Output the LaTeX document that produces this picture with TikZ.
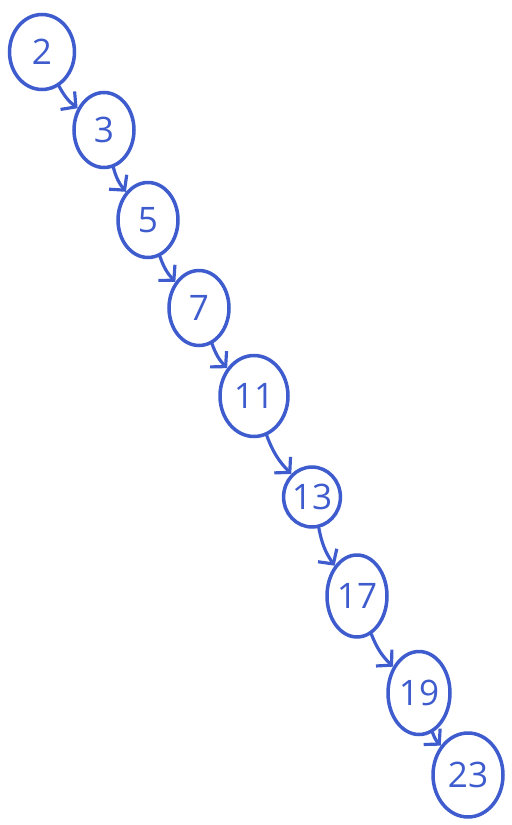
\documentclass[tikz,border=0pt]{standalone}
\usepackage{fontspec}
\setmainfont{Open Sans}
\usetikzlibrary{shapes.geometric,arrows.meta}
\definecolor{PenBlue}{RGB}{62,92,205}
\tikzset{
  prime/.style={ellipse,draw=PenBlue,line width=2pt,text=PenBlue,inner sep=0pt,
    minimum width=1.2cm,minimum height=1.5cm,font=\fontsize{20}{22}\selectfont},
  link/.style={draw=PenBlue,line width=1.8pt,line cap=round,
    -{Straight Barb[length=6pt,width=13pt]},bend right=12},
}
\begin{document}
\begin{tikzpicture}[x=0.02cm,y=-0.02cm]
\useasboundingbox (0,0) rectangle (511,825);
\coordinate (p0) at (42,52);
\coordinate (p1) at (104,130);
\coordinate (p2) at (148,220);
\coordinate (p3) at (199,308);
\coordinate (p4) at (254,396);
\coordinate (p5) at (312,497);
\coordinate (p6) at (357,596);
\coordinate (p7) at (419,693);
\coordinate (p8) at (468,775);
\node[prime,minimum width=1.3cm] (n2) at (p0) {2};
\node[prime] (n3) at (p1) {3};
\node[prime] (n5) at (p2) {5};
\node[prime] (n7) at (p3) {7};
\node[prime,minimum width=1.36cm,minimum height=1.62cm] (n11) at (p4) {11};
\node[prime,minimum width=1.0cm,minimum height=1.2cm] (n13) at (p5) {13};
\node[prime,minimum height=1.64cm] (n17) at (p6) {17};
\node[prime,minimum width=1.24cm,minimum height=1.66cm] (n19) at (p7) {19};
\node[prime,minimum width=1.4cm,minimum height=1.68cm] (n23) at (p8) {23};
\draw[link] (n2) to (n3);
\draw[link] (n3) to (n5);
\draw[link] (n5) to (n7);
\draw[link] (n7) to (n11);
\draw[link] (n11) to (n13);
\draw[link] (n13) to (n17);
\draw[link] (n17) to (n19);
\draw[link] (n19) to (n23);
\end{tikzpicture}
\end{document}
